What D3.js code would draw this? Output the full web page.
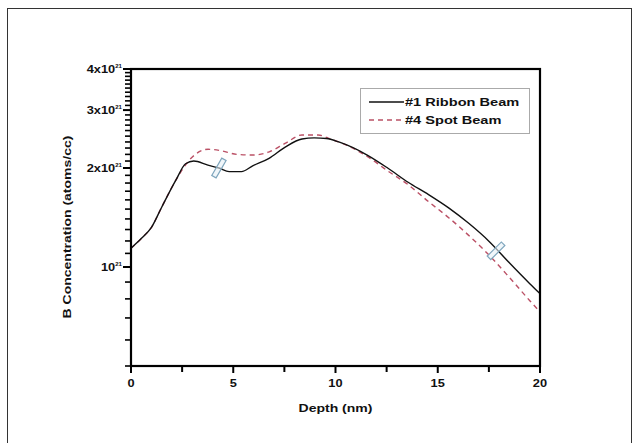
<!DOCTYPE html>
<html lang="en">
<head>
    <meta charset="UTF-8">
    <title>B Concentration vs Depth</title>
    <style>
        body { margin: 0; background: #fff; }
        svg { display: block; font-family: "Liberation Sans", Arial, sans-serif; }
        .tick-label { font-size: 10.5px; font-weight: bold; fill: #111; }
        .axis-title { font-size: 11.5px; font-weight: bold; fill: #111; }
    </style>
</head>
<body>
    <svg id="chart" width="639" height="443"></svg>
    <script src="https://d3js.org/d3.v7.min.js"></script>
    <script>
        // depth in nm, concentration in atoms/cc
        const ribbonDepth = [0, 0.5, 1.0, 1.5, 2.2, 2.67, 3.07, 3.76, 4.3, 4.8, 5.4, 5.95, 6.75, 7.56, 8.36, 8.96, 9.56, 10.16, 11.55, 12.55, 13.55, 14.55, 15.55, 16.5, 17.55, 18.5, 19.5, 20];
        const ribbonConc = [1.14e21, 1.22e21, 1.32e21, 1.52e21, 1.84e21, 2.06e21, 2.10e21, 2.04e21, 2.0e21, 1.95e21, 1.95e21, 2.03e21, 2.14e21, 2.32e21, 2.45e21, 2.47e21, 2.46e21, 2.40e21, 2.19e21, 2.0e21, 1.81e21, 1.66e21, 1.51e21, 1.36e21, 1.19e21, 1.03e21, 0.89e21, 0.83e21];

        const spotDepth = [0, 0.5, 1.0, 1.5, 2.2, 2.87, 3.77, 4.37, 5.17, 5.97, 6.76, 7.56, 8.36, 9.15, 9.76, 10.16, 11.55, 12.55, 13.55, 14.55, 15.55, 16.5, 17.55, 18.5, 19.5, 20];
        const spotConc = [1.14e21, 1.22e21, 1.32e21, 1.52e21, 1.84e21, 2.12e21, 2.28e21, 2.26e21, 2.20e21, 2.19e21, 2.24e21, 2.38e21, 2.52e21, 2.52e21, 2.45e21, 2.40e21, 2.17e21, 1.96e21, 1.78e21, 1.58e21, 1.41e21, 1.25e21, 1.08e21, 0.93e21, 0.79e21, 0.73e21];

        const xMajor = [0, 5, 10, 15, 20];
        const xMinor = [2.5, 7.5, 12.5, 17.5];
        const yMajor = [1e21, 2e21, 3e21, 4e21];
        const yMajorLabels = [["", "10", "21"], ["2x", "10", "21"], ["3x", "10", "21"], ["4x", "10", "21"]];
        const yMinor = [5e20, 6e20, 7e20, 8e20, 9e20, 1.1e21, 1.2e21, 1.3e21, 1.4e21, 1.5e21, 1.6e21, 1.7e21, 1.8e21, 1.9e21,
                        2.1e21, 2.2e21, 2.3e21, 2.4e21, 2.5e21, 2.6e21, 2.7e21, 2.8e21, 2.9e21,
                        3.1e21, 3.2e21, 3.3e21, 3.4e21, 3.5e21, 3.6e21, 3.7e21, 3.8e21, 3.9e21];

        // small markers drawn on the curves: depth, conc, angle
        const markerDepth = [4.3, 17.85];
        const markerConc = [2.0e21, 1.12e21];
        const markerAngle = [30, 45];

        const seriesNames = ["#1 Ribbon Beam", "#4 Spot Beam"];

        const svg = d3.select('#chart');
        const plotL = 131, plotR = 540, plotT = 69, plotB = 366;
        const stretch = 1.22; // text in the picture is wider than the font

        const x = d3.scaleLinear().domain([0, 20]).range([plotL, plotR]);
        const y = d3.scaleLog().domain([5e20, 4e21]).range([plotB, plotT]);

        // outer frame
        svg.append('rect')
            .attr('x', 7.5).attr('y', 8.5)
            .attr('width', 624).attr('height', 460)
            .attr('fill', 'none').attr('stroke', '#333').attr('stroke-width', 1);

        const line = d3.line()
            .x(d => x(d[0]))
            .y(d => y(d[1]))
            .curve(d3.curveMonotoneX);

        const ribbon = ribbonDepth.map((d, i) => [d, ribbonConc[i]]);
        const spot = spotDepth.map((d, i) => [d, spotConc[i]]);

        svg.append('path')
            .attr('d', line(spot))
            .attr('fill', 'none')
            .attr('stroke', '#bb5166')
            .attr('stroke-width', 1.4)
            .attr('stroke-dasharray', '5,4');

        svg.append('path')
            .attr('d', line(ribbon))
            .attr('fill', 'none')
            .attr('stroke', '#111')
            .attr('stroke-width', 1.4);

        // markers
        markerDepth.forEach((d, i) => {
            svg.append('rect')
                .attr('x', -2.5).attr('y', -10)
                .attr('width', 5).attr('height', 20)
                .attr('fill', '#e6f0f6')
                .attr('fill-opacity', 0.6)
                .attr('stroke', '#7fa6bd')
                .attr('stroke-width', 1.2)
                .attr('transform', `translate(${x(d)},${y(markerConc[i])}) rotate(${markerAngle[i]})`);
        });

        // x axis ticks and labels
        svg.append('g')
            .selectAll('line')
            .data(xMajor.concat(xMinor))
            .enter()
            .append('line')
            .attr('x1', d => x(d)).attr('x2', d => x(d))
            .attr('y1', plotB).attr('y2', d => plotB + (xMajor.includes(d) ? 7 : 6))
            .attr('stroke', '#000').attr('stroke-width', 2);

        svg.append('g')
            .selectAll('text')
            .data(xMajor)
            .enter()
            .append('text')
            .attr('class', 'tick-label')
            .attr('text-anchor', 'middle')
            .attr('transform', d => `translate(${x(d)},${plotB + 21}) scale(${stretch},1)`)
            .text(d => d);

        // y axis ticks
        svg.append('g')
            .selectAll('line')
            .data(yMinor)
            .enter()
            .append('line')
            .attr('x1', plotL - 6).attr('x2', plotL)
            .attr('y1', d => y(d)).attr('y2', d => y(d))
            .attr('stroke', '#000').attr('stroke-width', 1.6);

        svg.append('g')
            .selectAll('line')
            .data(yMajor)
            .enter()
            .append('line')
            .attr('x1', plotL - 8).attr('x2', plotL)
            .attr('y1', d => y(d)).attr('y2', d => y(d))
            .attr('stroke', '#000').attr('stroke-width', 2);

        const yLabels = svg.append('g')
            .selectAll('text')
            .data(yMajor)
            .enter()
            .append('text')
            .attr('class', 'tick-label')
            .attr('text-anchor', 'end')
            .attr('transform', d => `translate(${plotL - 9},${y(d) + 4}) scale(${stretch},1)`);
        yLabels.append('tspan').text((d, i) => yMajorLabels[i][0] + yMajorLabels[i][1]);
        yLabels.append('tspan')
            .attr('dy', -5)
            .attr('font-size', '5px')
            .text((d, i) => yMajorLabels[i][2]);

        // plot frame
        svg.append('rect')
            .attr('x', plotL).attr('y', plotT)
            .attr('width', plotR - plotL).attr('height', plotB - plotT)
            .attr('fill', 'none').attr('stroke', '#000').attr('stroke-width', 2.2);

        // axis titles
        svg.append('text')
            .attr('class', 'axis-title')
            .attr('text-anchor', 'middle')
            .attr('transform', `translate(${(plotL + plotR) / 2},412) scale(${stretch},1)`)
            .text('Depth (nm)');

        svg.append('text')
            .attr('class', 'axis-title')
            .attr('text-anchor', 'middle')
            .attr('transform', `translate(71,227) rotate(-90) scale(${stretch},1)`)
            .text('B Concentration (atoms/cc)');

        // legend
        const legend = svg.append('g').attr('transform', 'translate(360,88)');
        legend.append('rect')
            .attr('x', 0.5).attr('y', 0.5)
            .attr('width', 169).attr('height', 45)
            .attr('fill', '#fff').attr('stroke', '#aaa').attr('stroke-width', 1);

        const legendStyles = [
            { stroke: '#111', dash: null },
            { stroke: '#bb5166', dash: '5,4' }
        ];
        seriesNames.forEach((name, i) => {
            const ly = 14 + i * 18;
            legend.append('line')
                .attr('x1', 9).attr('x2', 44)
                .attr('y1', ly).attr('y2', ly)
                .attr('stroke', legendStyles[i].stroke)
                .attr('stroke-width', 1.4)
                .attr('stroke-dasharray', legendStyles[i].dash);
            legend.append('text')
                .attr('transform', `translate(45,${ly + 4}) scale(1.27,1)`)
                .attr('font-size', '11.5px')
                .attr('font-weight', 'bold')
                .attr('fill', '#111')
                .text(name);
        });
    </script>
</body>
</html>
